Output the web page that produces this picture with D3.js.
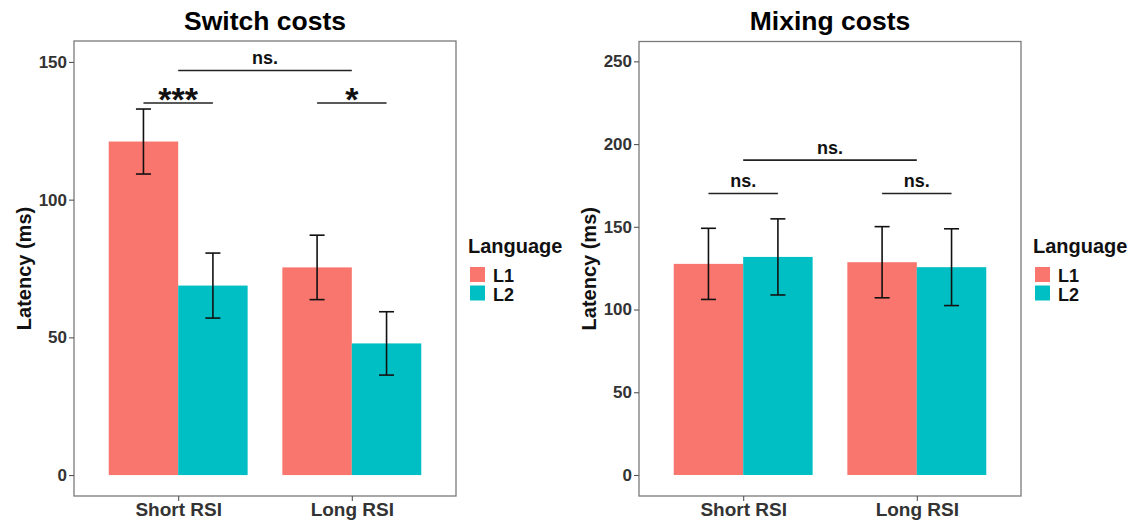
<!DOCTYPE html>
<html>
<head>
<meta charset="utf-8">
<script src="https://cdn.jsdelivr.net/npm/d3@7"></script>
<style>
  html, body { margin: 0; padding: 0; background: #fff; }
  svg { display: block; }
  text { font-family: "Liberation Sans", Arial, sans-serif; font-weight: bold; }
</style>
</head>
<body>
<svg id="chart" width="1134" height="521"></svg>
<script>
// ---------------- data ----------------
const categories = ["Short RSI", "Long RSI"];
const languages = ["L1", "L2"];
const languageColors = ["#F8766D", "#00BFC4"];

const switchL1 = [121.1, 75.4];
const switchL2 = [68.8, 47.8];
const switchL1Err = [11.8, 11.7];
const switchL2Err = [11.8, 11.5];
const switchTicks = [0, 50, 100, 150];
// brackets: [start category, start language, end category, end language, y value, label]
const switchBrackets = [
  [0, 0, 0, 1, 135.1, "***"],
  [1, 0, 1, 1, 135.1, "*"],
  [0, null, 1, null, 146.9, "ns."]
];

const mixingL1 = [127.6, 128.6];
const mixingL2 = [131.8, 125.6];
const mixingL1Err = [21.5, 21.5];
const mixingL2Err = [23.0, 23.2];
const mixingTicks = [0, 50, 100, 150, 200, 250];
const mixingBrackets = [
  [0, 0, 0, 1, 170.1, "ns."],
  [1, 0, 1, 1, 170.1, "ns."],
  [0, null, 1, null, 190.3, "ns."]
];

// ---------------- drawing ----------------
const svg = d3.select("#chart");

function drawPanel(cfg) {
  const { left, right, top, bottom, title, l1, l2, e1, e2, ticks, domain, brackets, legendX } = cfg;
  const g = svg.append("g");

  const x = d3.scalePoint().domain(categories).range([left, right]).padding(0.6);
  const step = x.step();
  const xLang = d3.scaleBand().domain(languages).range([-0.4 * step, 0.4 * step]).padding(0);
  const y = d3.scaleLinear().domain(domain).range([bottom, top]);
  const color = d3.scaleOrdinal().domain(languages).range(languageColors);

  const rows = [];
  categories.forEach((c, i) => {
    rows.push({ cat: c, lang: "L1", v: l1[i], e: e1[i] });
    rows.push({ cat: c, lang: "L2", v: l2[i], e: e2[i] });
  });

  // bars
  g.selectAll("rect.bar").data(rows).join("rect")
    .attr("x", d => x(d.cat) + xLang(d.lang))
    .attr("width", xLang.bandwidth())
    .attr("y", d => y(d.v))
    .attr("height", d => y(0) - y(d.v))
    .attr("fill", d => color(d.lang));

  // error bars
  const cap = 0.0865 * step;
  const cx = d => x(d.cat) + xLang(d.lang) + xLang.bandwidth() / 2;
  const eb = g.selectAll("g.err").data(rows).join("g").attr("stroke", "#111").attr("stroke-width", 1.6);
  eb.append("line").attr("x1", cx).attr("x2", cx).attr("y1", d => y(d.v + d.e)).attr("y2", d => y(d.v - d.e));
  eb.append("line").attr("x1", d => cx(d) - cap / 2).attr("x2", d => cx(d) + cap / 2)
    .attr("y1", d => y(d.v + d.e)).attr("y2", d => y(d.v + d.e));
  eb.append("line").attr("x1", d => cx(d) - cap / 2).attr("x2", d => cx(d) + cap / 2)
    .attr("y1", d => y(d.v - d.e)).attr("y2", d => y(d.v - d.e));

  // significance brackets
  const bx = (ci, li) => li === null ? x(categories[ci]) : x(categories[ci]) + xLang(languages[li]) + xLang.bandwidth() / 2;
  brackets.forEach(b => {
    const x1 = bx(b[0], b[1]), x2 = bx(b[2], b[3]), yy = y(b[4]);
    g.append("line").attr("x1", x1).attr("x2", x2).attr("y1", yy).attr("y2", yy)
      .attr("stroke", "#222").attr("stroke-width", 1.6);
    const isStar = b[5].indexOf("*") === 0;
    g.append("text")
      .attr("x", (x1 + x2) / 2)
      .attr("y", isStar ? yy + 8 : yy - 6.5)
      .attr("text-anchor", "middle")
      .attr("font-size", isStar ? 34 : 18)
      .attr("fill", "#111")
      .text(b[5]);
  });

  // panel border
  g.append("rect").attr("x", left).attr("y", top).attr("width", right - left).attr("height", bottom - top)
    .attr("fill", "none").attr("stroke", "#7a7a7a").attr("stroke-width", 1.3);

  // y axis
  const ya = g.append("g").attr("transform", `translate(${left},0)`)
    .call(d3.axisLeft(y).tickValues(ticks).tickSize(5).tickPadding(2));
  ya.select(".domain").remove();
  ya.selectAll(".tick line").attr("stroke", "#555").attr("stroke-width", 1.1);
  ya.selectAll(".tick text").attr("font-size", 17).attr("fill", "#333")
    .attr("font-family", "Liberation Sans, Arial, sans-serif").attr("font-weight", "bold");

  // x axis
  const xa = g.append("g").attr("transform", `translate(0,${bottom})`)
    .call(d3.axisBottom(x).tickSize(5).tickPadding(2));
  xa.select(".domain").remove();
  xa.selectAll(".tick line").attr("stroke", "#555").attr("stroke-width", 1.1);
  xa.selectAll(".tick text").attr("font-size", 19).attr("fill", "#333")
    .attr("font-family", "Liberation Sans, Arial, sans-serif").attr("font-weight", "bold");

  // title
  g.append("text").attr("x", (left + right) / 2).attr("y", 30).attr("text-anchor", "middle")
    .attr("font-size", 26.5).attr("fill", "#000").text(title);

  // y label
  g.append("text")
    .attr("transform", `translate(${left - 43},${(top + bottom) / 2}) rotate(-90)`)
    .attr("text-anchor", "middle").attr("font-size", 20).attr("fill", "#111")
    .text("Latency (ms)");

  // legend
  const lg = g.append("g").attr("transform", `translate(${legendX},0)`);
  lg.append("text").attr("x", 0).attr("y", 253).attr("font-size", 20).attr("fill", "#111").text("Language");
  languages.forEach((l, i) => {
    lg.append("rect").attr("x", 2).attr("y", 267 + i * 18.5).attr("width", 15).attr("height", 15)
      .attr("fill", color(l));
    lg.append("text").attr("x", 25).attr("y", 281.5 + i * 19).attr("font-size", 18).attr("fill", "#111").text(l);
  });
}

drawPanel({
  left: 74, right: 456, top: 41, bottom: 496,
  title: "Switch costs",
  l1: switchL1, l2: switchL2, e1: switchL1Err, e2: switchL2Err,
  ticks: switchTicks, domain: [-7.6, 157.6], brackets: switchBrackets, legendX: 468
});

drawPanel({
  left: 639, right: 1021, top: 41.5, bottom: 496,
  title: "Mixing costs",
  l1: mixingL1, l2: mixingL2, e1: mixingL1Err, e2: mixingL2Err,
  ticks: mixingTicks, domain: [-12.7, 262], brackets: mixingBrackets, legendX: 1033
});
</script>
</body>
</html>
